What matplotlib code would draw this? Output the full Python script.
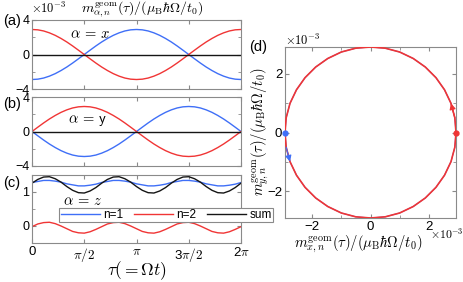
import numpy as np
import matplotlib
matplotlib.use("Agg")
import matplotlib.pyplot as plt
from matplotlib.ticker import FixedLocator

plt.rcParams['font.family'] = ['Liberation Sans', 'DejaVu Sans']
plt.rcParams['mathtext.fontset'] = 'cm'

# tau sampled every 10 degrees (0 .. 2pi), values in units of 1e-3
tau_deg = list(range(0, 361, 10))

mx_n2 = [2.90, 2.86, 2.73, 2.51, 2.22, 1.86, 1.45, 0.99, 0.50, 0.00,
         -0.50, -0.99, -1.45, -1.86, -2.22, -2.51, -2.73, -2.86, -2.90,
         -2.86, -2.73, -2.51, -2.22, -1.86, -1.45, -0.99, -0.50, 0.00,
         0.50, 0.99, 1.45, 1.86, 2.22, 2.51, 2.73, 2.86, 2.90]
mx_n1 = [-2.90, -2.86, -2.73, -2.51, -2.22, -1.86, -1.45, -0.99, -0.50, 0.00,
         0.50, 0.99, 1.45, 1.86, 2.22, 2.51, 2.73, 2.86, 2.90,
         2.86, 2.73, 2.51, 2.22, 1.86, 1.45, 0.99, 0.50, 0.00,
         -0.50, -0.99, -1.45, -1.86, -2.22, -2.51, -2.73, -2.86, -2.90]
my_n2 = [0.00, 0.50, 0.99, 1.45, 1.86, 2.22, 2.51, 2.73, 2.86, 2.90,
         2.86, 2.73, 2.51, 2.22, 1.86, 1.45, 0.99, 0.50, 0.00,
         -0.50, -0.99, -1.45, -1.86, -2.22, -2.51, -2.73, -2.86, -2.90,
         -2.86, -2.73, -2.51, -2.22, -1.86, -1.45, -0.99, -0.50, 0.00]
my_n1 = [0.00, -0.50, -0.99, -1.45, -1.86, -2.22, -2.51, -2.73, -2.86, -2.90,
         -2.86, -2.73, -2.51, -2.22, -1.86, -1.45, -0.99, -0.50, 0.00,
         0.50, 0.99, 1.45, 1.86, 2.22, 2.51, 2.73, 2.86, 2.90,
         2.86, 2.73, 2.51, 2.22, 1.86, 1.45, 0.99, 0.50, 0.00]
mz_n1 = [1.28, 1.31, 1.34, 1.34, 1.32, 1.29, 1.24, 1.21, 1.18, 1.18, 1.20, 1.23,
         1.28, 1.31, 1.34, 1.34, 1.32, 1.29, 1.24, 1.21, 1.18, 1.18, 1.20, 1.23,
         1.28, 1.31, 1.34, 1.34, 1.32, 1.29, 1.24, 1.21, 1.18, 1.18, 1.20, 1.23,
         1.28]
mz_n2 = [-0.02, 0.06, 0.10, 0.11, 0.07, 0.00, -0.08, -0.16, -0.20, -0.21, -0.17, -0.10,
         -0.02, 0.06, 0.10, 0.11, 0.07, 0.00, -0.08, -0.16, -0.20, -0.21, -0.17, -0.10,
         -0.02, 0.06, 0.10, 0.11, 0.07, 0.00, -0.08, -0.16, -0.20, -0.21, -0.17, -0.10,
         -0.02]

series_labels = ['n=1', 'n=2', 'sum']
xtick_labels = ['0', r'$\pi/2$', r'$\pi$', r'3$\pi/2$', r'2$\pi$']

tau = np.deg2rad(tau_deg)
C1 = '#3f6ff7'
C2 = '#f03535'
CS = '#151515'
SPINE = '#8a8a8a'

W, H = 463, 282
fig = plt.figure(figsize=(W / 100, H / 100), dpi=100)


def frac(x0, y0, x1, y1):
    return [x0 / W, 1 - y1 / H, (x1 - x0) / W, (y1 - y0) / H]


def style(ax):
    for s in ax.spines.values():
        s.set_color(SPINE)
        s.set_linewidth(0.8)
    ax.tick_params(which='both', direction='in', top=True, right=True,
                   color=SPINE, labelsize=9, pad=2)
    ax.tick_params(which='major', length=3)
    ax.tick_params(which='minor', length=2)


axa = fig.add_axes(frac(32, 20, 241, 89))
axb = fig.add_axes(frac(32, 97, 241, 166))
axc = fig.add_axes(frac(32, 175, 241, 243))
axd = fig.add_axes(frac(285, 47, 456, 218))

for ax, d1, d2 in [(axa, mx_n1, mx_n2), (axb, my_n1, my_n2), (axc, mz_n1, mz_n2)]:
    ax.plot(tau, d1, color=C1, lw=1.0, label=series_labels[0])
    ax.plot(tau, d2, color=C2, lw=1.0, label=series_labels[1])
    ax.plot(tau, np.add(d1, d2), color=CS, lw=1.0, label=series_labels[2])
    ax.set_xlim(0, 2 * np.pi)
    ax.xaxis.set_major_locator(FixedLocator(np.arange(5) * np.pi / 2))
    style(ax)

for ax in (axa, axb):
    ax.set_ylim(-4, 4)
    ax.set_yticks([-4, 0, 4])
    ax.set_yticklabels(['\u22124', '0', '4'])
    ax.yaxis.set_minor_locator(FixedLocator([-2, 2]))
    ax.set_xticklabels([])
axc.set_ylim(-0.5, 1.5)
axc.set_yticks([0, 1])
axc.set_yticklabels(['0', '1'])
axc.yaxis.set_minor_locator(FixedLocator([-0.5, 0.5, 1.5]))
axc.set_xticklabels(xtick_labels)
axc.tick_params(axis='x', labelsize=9.5, pad=2)
axc.set_xlabel(r'$\tau(=\Omega t)$', fontsize=12.5, labelpad=-3)

axa.text(0.18, 0.80, r'$\alpha\,=\,x$', transform=axa.transAxes, fontsize=10.5, va='center')
axb.text(0.17, 0.66, r'$\alpha\,=\,\mathsf{y}$', transform=axb.transAxes, fontsize=10.5, va='center')
axc.text(0.15, 0.62, r'$\alpha\,=\,z$', transform=axc.transAxes, fontsize=10.5, va='center')

leg = axc.legend(loc='upper left', bbox_to_anchor=(0.13, 0.52), ncol=3,
                 fontsize=8.5, handlelength=3.3, handletextpad=0.3,
                 columnspacing=0.9, borderpad=0.12, borderaxespad=0,
                 fancybox=False, framealpha=1, edgecolor=SPINE)
leg.get_frame().set_linewidth(0.8)

fig.text(31 / W, 1 - 8 / H, r'$\times10^{-3}$', fontsize=9, va='center', ha='left')
fig.text(142 / W, 1 - 9 / H, r'$m^{\rm geom}_{\alpha,n}(\tau)/(\mu_{\rm B}\hbar\Omega/t_0)$',
         fontsize=10, va='center', ha='center')
fig.text(12 / W, 1 - 21 / H, '(a)', fontsize=10.5, va='center', ha='center')
fig.text(12 / W, 1 - 104 / H, '(b)', fontsize=10.5, va='center', ha='center')
fig.text(12 / W, 1 - 183 / H, '(c)', fontsize=10.5, va='center', ha='center')
fig.text(258 / W, 1 - 47 / H, '(d)', fontsize=10.5, va='center', ha='center')

# panel (d)
axd.plot(mx_n1, my_n1, color=C1, lw=0.8, zorder=2)
axd.plot(mx_n2, my_n2, color=C2, lw=1.2, zorder=3)
axd.plot([mx_n1[0]], [my_n1[0]], 'o', color=C1, ms=3.5, clip_on=False, zorder=5)
axd.plot([mx_n2[0]], [my_n2[0]], 'o', color=C2, ms=3.5, clip_on=False, zorder=5)
axd.annotate('', xy=(mx_n2[2], my_n2[2]), xytext=(mx_n2[1], my_n2[1]),
             arrowprops=dict(arrowstyle='-|>', color=C2, lw=0.8, mutation_scale=9,
                             shrinkA=0, shrinkB=0), zorder=6)
axd.annotate('', xy=(mx_n1[2], my_n1[2]), xytext=(mx_n1[1], my_n1[1]),
             arrowprops=dict(arrowstyle='-|>', color=C1, lw=0.8, mutation_scale=9,
                             shrinkA=0, shrinkB=0), zorder=6)
axd.set_xlim(-2.9, 2.9)
axd.set_ylim(-2.9, 2.9)
axd.set_xticks([-2, 0, 2])
axd.set_xticklabels(['\u22122', '0', '2'])
axd.set_yticks([-2, 0, 2])
axd.set_yticklabels(['\u22122', '0', '2'])
axd.xaxis.set_minor_locator(FixedLocator([-1, 1]))
axd.yaxis.set_minor_locator(FixedLocator([-1, 1]))
style(axd)
axd.tick_params(labelsize=9.5)
fig.text(285 / W, 1 - 40 / H, r'$\times10^{-3}$', fontsize=9, va='center', ha='left')
fig.text(430 / W, 1 - 234 / H, r'$\times10^{-3}$', fontsize=8.5, va='center', ha='left')
fig.text(358 / W, 1 - 244 / H, r'$m^{\rm geom}_{x,n}(\tau)/(\mu_{\rm B}\hbar\Omega/t_0)$',
         fontsize=10.5, va='center', ha='center')
fig.text(260 / W, 1 - 132 / H, r'$m^{\rm geom}_{y,n}(\tau)/(\mu_{\rm B}\hbar\Omega/t_0)$',
         fontsize=10.5, va='center', ha='center', rotation=90)

fig.savefig('out.png', dpi=100)
